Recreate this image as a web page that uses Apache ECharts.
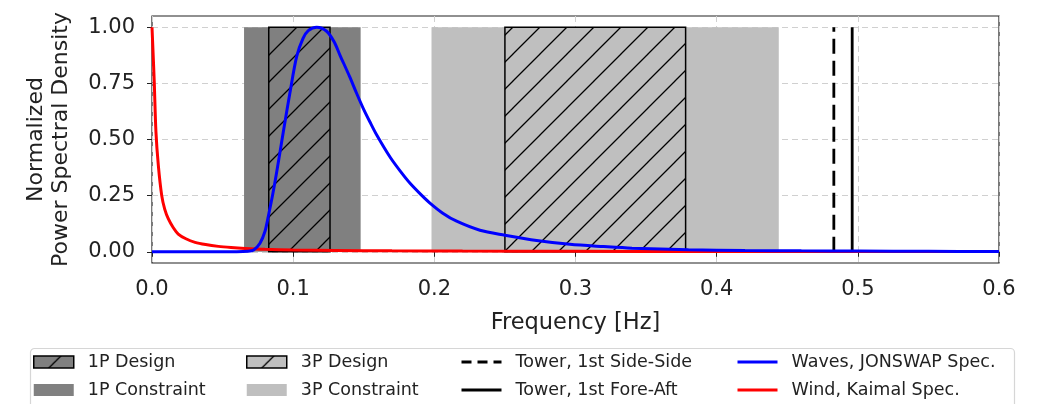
<!DOCTYPE html>
<html>
<head>
<meta charset="utf-8">
<script src="https://cdn.jsdelivr.net/npm/echarts@6/dist/echarts.min.js"></script>
<style>
  html, body { margin: 0; padding: 0; background: #fff; }
  #chart { width: 1046px; height: 404px; }
</style>
</head>
<body>
<div id="chart"></div>
<script>
  // frequency bands [from, to] in Hz
  const p1Constraint = [0.0652, 0.1478];
  const p1Design = [0.0827, 0.1261];
  const p3Constraint = [0.198, 0.444];
  const p3Design = [0.25, 0.378];

  // tower natural frequencies, Hz
  const towerSideSide = 0.483;
  const towerForeAft = 0.496;

  // normalized spectra
  const waveFreq = [0, 0.060, 0.068, 0.072, 0.0765, 0.080, 0.0824, 0.0855, 0.0883, 0.093, 0.0978, 0.1025, 0.107, 0.1107,
    0.1167, 0.1237, 0.129, 0.1332, 0.140, 0.145, 0.1497, 0.1544, 0.1592, 0.1686, 0.176, 0.1828, 0.190, 0.1969,
    0.206, 0.2158, 0.2323, 0.250, 0.2725, 0.296, 0.320, 0.340, 0.380, 0.420, 0.460, 0.500, 0.550, 0.600];
  const wavePsd = [0, 0, 0.002, 0.008, 0.038, 0.09, 0.158, 0.255, 0.354, 0.533, 0.711, 0.87, 0.95, 0.985,
    1.0, 0.982, 0.935, 0.875, 0.78, 0.705, 0.638, 0.578, 0.52, 0.422, 0.358, 0.305, 0.258, 0.217,
    0.172, 0.136, 0.096, 0.074, 0.050, 0.033, 0.023, 0.016, 0.009, 0.006, 0.004, 0.003, 0.002, 0.0015];

  const windFreq = [0, 0.0008, 0.0016, 0.0028, 0.0045, 0.0069, 0.009, 0.0116, 0.015, 0.0186, 0.024, 0.0305, 0.038,
    0.047, 0.056, 0.066, 0.080, 0.100, 0.130, 0.170, 0.220, 0.300, 0.400, 0.500, 0.600];
  const windPsd = [1.0, 0.88, 0.756, 0.533, 0.384, 0.25, 0.19, 0.146, 0.108, 0.079, 0.058, 0.042, 0.032,
    0.024, 0.019, 0.015, 0.011, 0.008, 0.006, 0.004, 0.003, 0.002, 0.0013, 0.001, 0.0008];

  const xTicks = [0, 0.1, 0.2, 0.3, 0.4, 0.5, 0.6];
  const yTicks = [0, 0.25, 0.5, 0.75, 1.0];

  const FONT = 'DejaVu Sans';
  const DARK_GREY = '#808080';
  const LIGHT_GREY = '#bfbfbf';

  // "/" hatch tile like matplotlib
  function hatch(bg) {
    const s = 27;
    const c = document.createElement('canvas');
    c.width = s; c.height = s;
    const ctx = c.getContext('2d');
    ctx.fillStyle = bg;
    ctx.fillRect(0, 0, s, s);
    ctx.strokeStyle = '#000';
    ctx.lineWidth = 1.3;
    ctx.beginPath();
    ctx.moveTo(-2, s + 2); ctx.lineTo(s + 2, -2);
    ctx.moveTo(-2, 2); ctx.lineTo(2, -2);
    ctx.moveTo(s - 2, s + 2); ctx.lineTo(s + 2, s - 2);
    ctx.stroke();
    return { image: c, repeat: 'repeat' };
  }

  const hatchDark = hatch(DARK_GREY);
  const hatchLight = hatch(LIGHT_GREY);

  function band(name, range, fill, stroke, z) {
    return {
      name,
      type: 'custom',
      z,
      itemStyle: { color: fill, borderColor: stroke || fill, borderWidth: stroke ? 1.5 : 0 },
      encode: { x: [0, 1], y: [2, 3] },
      data: [[range[0], range[1], 0, 1]],
      renderItem: (params, api) => {
        const a = api.coord([api.value(0), api.value(3)]);
        const b = api.coord([api.value(1), api.value(2)]);
        return {
          type: 'rect',
          shape: { x: a[0], y: a[1], width: b[0] - a[0], height: b[1] - a[1] },
          style: { fill, stroke: stroke || null, lineWidth: stroke ? 1.5 : 0 },
        };
      },
    };
  }

  function vline(name, f, dashed) {
    return {
      name,
      type: 'line',
      z: 5,
      symbol: 'none',
      lineStyle: { color: '#000', width: 2.8, type: dashed ? [15, 7] : 'solid' },
      itemStyle: { color: '#000' },
      data: [[f, 0], [f, 1]],
    };
  }

  function curve(name, xs, ys, color, z) {
    return {
      name,
      type: 'line',
      z,
      symbol: 'none',
      smooth: 0.3,
      lineStyle: { color, width: 3 },
      itemStyle: { color },
      data: xs.map((x, i) => [x, ys[i]]),
    };
  }

  const legendBase = {
    orient: 'vertical',
    top: 352,
    padding: 0,
    itemWidth: 40,
    itemHeight: 12,
    itemGap: 8,
    selectedMode: false,
    textStyle: { fontFamily: FONT, fontSize: 17.5, color: '#222', lineHeight: 20, padding: [0, 0, 0, 9] },
  };
  const lineItem = (name, dashed) => ({
    name,
    itemStyle: { opacity: 0 },
    lineStyle: { width: 3, type: dashed ? [10, 6] : 'solid' },
  });

  const chart = echarts.init(document.getElementById('chart'));
  chart.setOption({
    animation: false,
    backgroundColor: '#fff',
    grid: {
      left: 152, top: 16, right: 47, bottom: 141,
      show: true, borderColor: '#222', borderWidth: 1.2, backgroundColor: 'transparent',
    },
    xAxis: {
      type: 'value',
      min: 0, max: 0.6,
      name: 'Frequency [Hz]',
      nameLocation: 'middle',
      nameGap: 49,
      nameTextStyle: { fontFamily: FONT, fontSize: 22.5, color: '#222' },
      axisLine: { show: false },
      axisTick: { show: true, length: 5, lineStyle: { color: '#222' }, customValues: xTicks },
      axisLabel: {
        customValues: xTicks, fontFamily: FONT, fontSize: 21, color: '#222', margin: 16,
        formatter: v => v.toFixed(1),
      },
      splitLine: { show: true, lineStyle: { color: '#d0d0d0', type: [6, 4], width: 1 } },
    },
    yAxis: {
      type: 'value',
      min: -0.05, max: 1.05,
      name: 'Normalized\nPower Spectral Density',
      nameLocation: 'middle',
      nameRotate: 90,
      nameGap: 78,
      nameTextStyle: { fontFamily: FONT, fontSize: 22, color: '#222', lineHeight: 25 },
      axisLine: { show: false },
      axisTick: { show: true, length: 5, lineStyle: { color: '#222' }, customValues: yTicks },
      axisLabel: {
        customValues: yTicks, fontFamily: FONT, fontSize: 21, color: '#222', margin: 17,
        formatter: v => v.toFixed(2),
      },
      splitLine: { show: true, lineStyle: { color: '#d0d0d0', type: [6, 4], width: 1 } },
    },
    legend: [
      Object.assign({}, legendBase, {
        left: 33,
        data: [
          { name: '1P Design', icon: 'rect', itemStyle: { color: hatchDark, borderColor: '#000', borderWidth: 1.5 } },
          { name: '1P Constraint', icon: 'rect', itemStyle: { color: DARK_GREY, borderWidth: 0 } },
        ],
      }),
      Object.assign({}, legendBase, {
        left: 246,
        data: [
          { name: '3P Design', icon: 'rect', itemStyle: { color: hatchLight, borderColor: '#000', borderWidth: 1.5 } },
          { name: '3P Constraint', icon: 'rect', itemStyle: { color: LIGHT_GREY, borderWidth: 0 } },
        ],
      }),
      Object.assign({}, legendBase, {
        left: 460,
        data: [lineItem('Tower, 1st Side-Side', true), lineItem('Tower, 1st Fore-Aft', false)],
      }),
      Object.assign({}, legendBase, {
        left: 736,
        data: [lineItem('Waves, JONSWAP Spec.', false), lineItem('Wind, Kaimal Spec.', false)],
      }),
    ],
    graphic: [{
      type: 'rect',
      left: 28, top: 346,
      shape: { width: 984, height: 70, r: 4 },
      style: { fill: 'none', stroke: '#d6d6d6', lineWidth: 1.2 },
      silent: true,
    }],
    series: [
      band('1P Constraint', p1Constraint, DARK_GREY, null, 1),
      band('3P Constraint', p3Constraint, LIGHT_GREY, null, 1),
      band('1P Design', p1Design, hatchDark, '#000', 2),
      band('3P Design', p3Design, hatchLight, '#000', 2),
      vline('Tower, 1st Side-Side', towerSideSide, true),
      vline('Tower, 1st Fore-Aft', towerForeAft, false),
      curve('Wind, Kaimal Spec.', windFreq, windPsd, '#ff0000', 6),
      curve('Waves, JONSWAP Spec.', waveFreq, wavePsd, '#0000ff', 7),
    ],
  });
</script>
</body>
</html>
